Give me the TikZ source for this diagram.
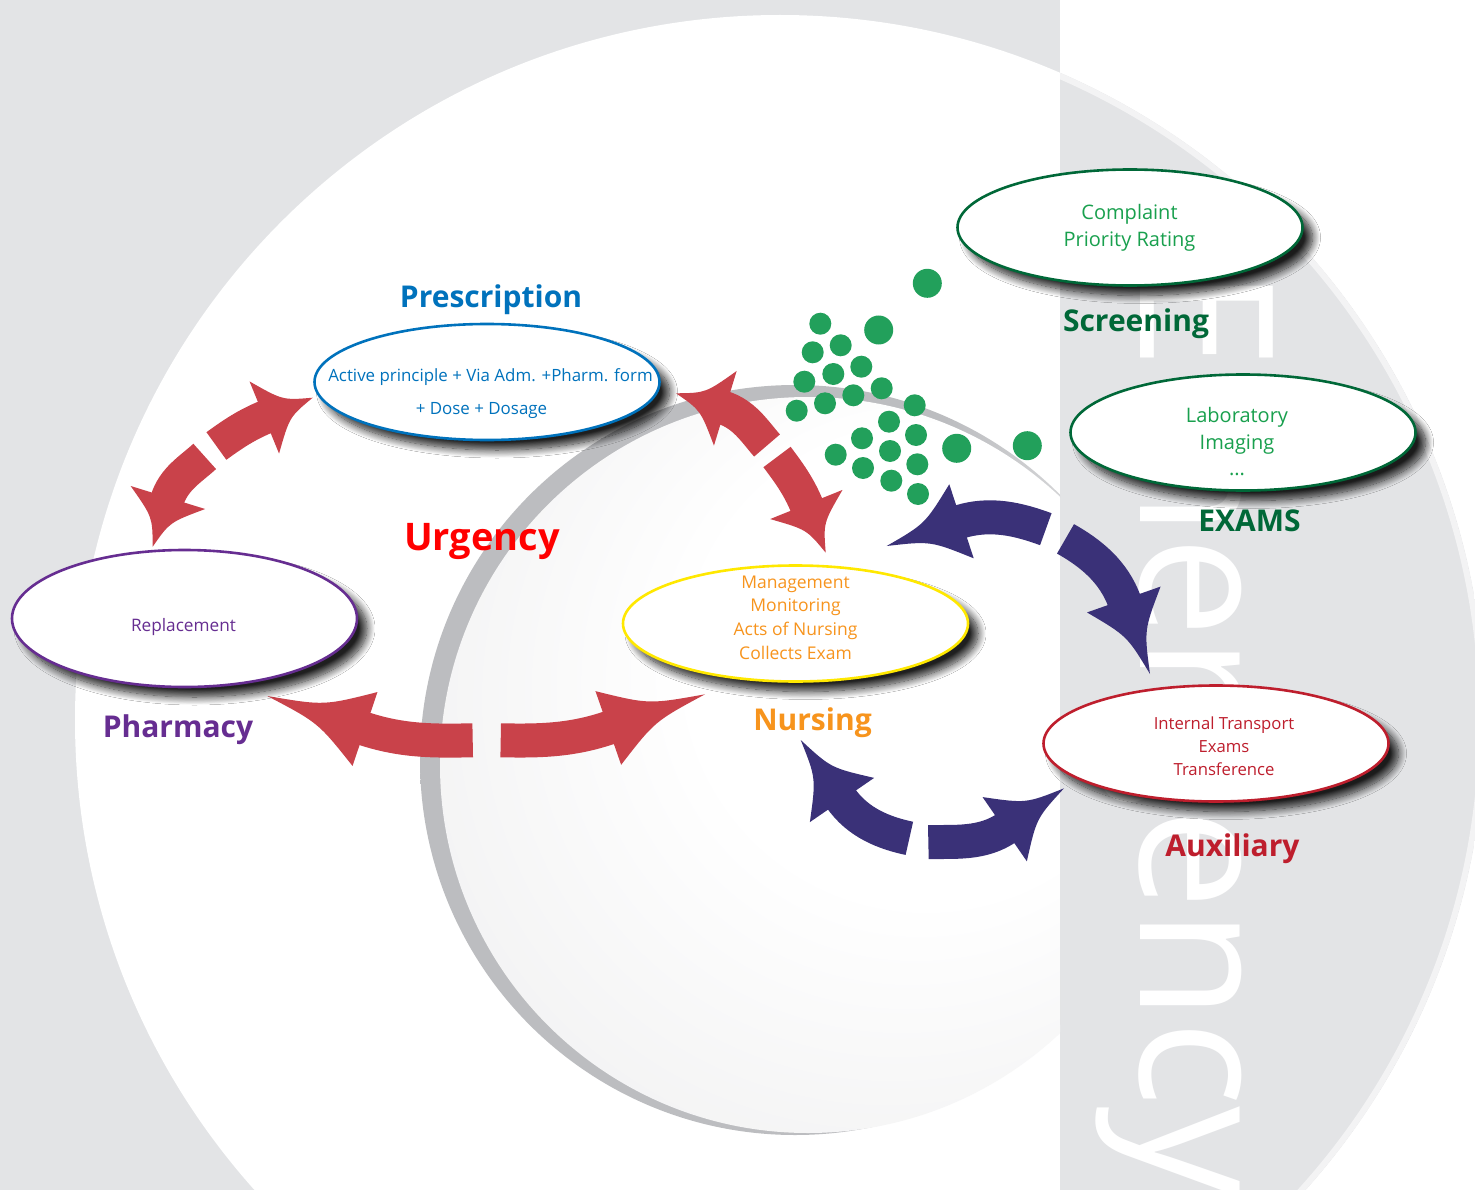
\documentclass[tikz,border=0pt]{standalone}
\usepackage{graphicx}
\usepackage{fontspec}
\setmainfont{Open Sans}
\usetikzlibrary{calc,shapes.geometric,shadows.blur}
\definecolor{bggray}{HTML}{E3E4E6}
\definecolor{presblue}{HTML}{0072BC}
\definecolor{pharmpurple}{HTML}{662D91}
\definecolor{nursyellow}{HTML}{FFE800}
\definecolor{nursorange}{HTML}{F7941D}
\definecolor{auxred}{HTML}{BE1E2D}
\definecolor{txtgreen}{HTML}{19A04E}
\definecolor{darkgreen}{HTML}{006838}
\definecolor{urgred}{HTML}{FF0000}
\definecolor{arrred}{HTML}{C9424A}
\definecolor{arrnavy}{HTML}{3A3178}
\definecolor{dotgreen}{HTML}{22A05B}
\definecolor{crescent}{HTML}{BCBDC0}
\definecolor{sphereedge}{HTML}{E6E6E7}
\pgfdeclareradialshading{sphereshade}{\pgfpoint{12bp}{10bp}}{color(0bp)=(white); color(16bp)=(white); color(50bp)=(sphereedge)}
\pgfdeclarehorizontalshading{crescshade}{100bp}{color(0bp)=(crescent); color(60bp)=(crescent); color(82bp)=(white); color(100bp)=(white)}
\newcommand\halfarrow[5]{%
  \coordinate (hm) at ($(#4)!0.45!(#5)$);
  \draw[#1, line width=34pt] (#2) .. controls (#3) and ($(#4)!-0.38!(#5)$) .. ($(#4)!3pt!(#5)$);
  \fill[#1] ($(#4)!39pt!90:(#5)$) .. controls ($(hm)!9pt!90:(#5)$) .. (#5)
     .. controls ($(hm)!9pt!-90:(#5)$) .. ($(#4)!39pt!-90:(#5)$) -- cycle;
}
\tikzset{
  ovalnode/.style={ellipse, fill=white, line width=2.6pt, minimum width=345pt, minimum height=116pt, inner sep=0pt,
    blur shadow={shadow xshift=10pt, shadow yshift=-10pt, shadow blur radius=8pt, shadow blur steps=14, shadow opacity=88}},
  ovaltext/.style={align=center, inner sep=0pt},
  biglabel/.style={anchor=base, inner sep=0pt, font=\bfseries\fontsize{30}{36}\selectfont},
  redarr/.style={color=arrred},
  navyarr/.style={color=arrnavy},
  dot/.style={fill=dotgreen},
}
\begin{document}
\begin{tikzpicture}[x=1pt, y=-1pt]
\useasboundingbox (0,0) rectangle (1475,1190);
% background
\fill[bggray] (0,0) rectangle (1060,1190);
\fill[white] (1060,0) rectangle (1475,1190);
\begin{scope}
  \clip (780,720) circle[radius=705pt];
  \fill[white] (0,0) rectangle (1060,1190);
  \fill[bggray] (1060,0) rectangle (1475,1190);
  \begin{scope}
    \clip (1060,0) rectangle (1475,1190);
    \draw[white!55!bggray, line width=6pt] (780,720) circle[radius=702pt];
  \end{scope}
\end{scope}
% sphere
\begin{scope}
  \clip (0,0) rectangle (1060,1190);
  \shade[shading=crescshade] (795,760) circle[radius=375pt];
  \shade[shading=sphereshade] (808,765) circle[radius=368pt];
\end{scope}
% big vertical word
\node[rotate=-90, anchor=base west, inner sep=0pt, text=white, font=\fontsize{186}{186}\selectfont] (emerg) at (1140,268) {\scalebox{0.97}[1]{Emergency}};
% arrows: red left arc
\coordinate (rlGa) at (216.4,446);   \coordinate (rlCa) at (232.6,434.3);
\coordinate (rlBa) at (264.3,417.5); \coordinate (rlTa) at (312.7,397.7);
\coordinate (rlGb) at (204.7,456.4); \coordinate (rlCb) at (190.7,469.3);
\coordinate (rlBb) at (167.9,497.5); \coordinate (rlTb) at (152.7,546.7);
\halfarrow{redarr}{rlGa}{rlCa}{rlBa}{rlTa}
\halfarrow{redarr}{rlGb}{rlCb}{rlBb}{rlTb}
% red right arc
\coordinate (rrGa) at (767,445.5);   \coordinate (rrCa) at (754.5,431.2);
\coordinate (rrBa) at (725.3,408.3); \coordinate (rrTa) at (676,393.3);
\coordinate (rrGb) at (777,457);     \coordinate (rrCb) at (788.4,472.2);
\coordinate (rrBb) at (806.3,504.5); \coordinate (rrTb) at (825.7,552.7);
\halfarrow{redarr}{rrGa}{rrCa}{rrBa}{rrTa}
\halfarrow{redarr}{rrGb}{rrCb}{rrBb}{rrTb}
% red bottom
\coordinate (rbGa) at (472.7,740.3); \coordinate (rbCa) at (434.7,741);
\coordinate (rbBa) at (365,729);     \coordinate (rbTa) at (267.3,696);
\coordinate (rbGb) at (500.7,740.3); \coordinate (rbCb) at (538.7,741);
\coordinate (rbBb) at (608.3,728);   \coordinate (rbTb) at (705,694.3);
\halfarrow{redarr}{rbGa}{rbCa}{rbBa}{rbTa}
\halfarrow{redarr}{rbGb}{rbCb}{rbBb}{rbTb}
% navy upper
\coordinate (nuGa) at (1045.8,529.2);  \coordinate (nuCa) at (1019.5,519.5);
\coordinate (nuBa) at (961.5,521.3);   \coordinate (nuTa) at (886.7,546);
\coordinate (nuGb) at (1065.5,538.85); \coordinate (nuCb) at (1089.9,552.6);
\coordinate (nuBb) at (1123.8,599.5);  \coordinate (nuTb) at (1150,674);
\halfarrow{navyarr}{nuGa}{nuCa}{nuBa}{nuTa}
\halfarrow{navyarr}{nuGb}{nuCb}{nuBb}{nuTb}
% navy lower
\coordinate (nlGa) at (909.35,838.35); \coordinate (nlCa) at (883.9,832.9);
\coordinate (nlBa) at (842,800);       \coordinate (nlTa) at (800.7,740);
\coordinate (nlGb) at (928.35,842.15); \coordinate (nlCb) at (954.4,841.4);
\coordinate (nlBb) at (1004.7,829.2);  \coordinate (nlTb) at (1064,788.3);
\halfarrow{navyarr}{nlGa}{nlCa}{nlBa}{nlTa}
\halfarrow{navyarr}{nlGb}{nlCb}{nlBb}{nlTb}
% green dots
\foreach \px/\py/\r in {927.3/283.3/14.5, 820.3/323.7/11, 878.7/330/14.5, 812.7/352.3/11, 840.7/345.3/11,
  833.3/374/11, 861.3/366.7/11, 804.3/381.7/11, 881.7/388.3/11, 853.3/395.3/11, 825/403.3/11,
  796.7/410.7/11, 914.7/405.3/11, 889/421.7/11, 916/435/11, 862/438.3/11, 835.7/454.7/11,
  890/451/11, 917.3/464.3/11, 863/468/11, 891.3/480.7/11, 918/494/11, 956.7/448.3/14.5, 1027.3/445.7/14.5}
  \fill[dot] (\px,\py) circle[radius=\r pt];
% ellipses
\node[ovalnode, draw=darkgreen] (screen) at (1130,227.5) {};
\node[ovalnode, draw=darkgreen] (exams) at (1243,432.5) {};
\node[ovalnode, draw=presblue] (presc) at (487,382) {};
\node[ovalnode, draw=pharmpurple, minimum height=137pt] (pharm) at (184.5,618.5) {};
\node[ovalnode, draw=nursyellow] (nurs) at (795.5,623.5) {};
\node[ovalnode, draw=auxred] (aux) at (1216,743.5) {};
% ellipse texts
\node[ovaltext, text=txtgreen, font=\fontsize{20}{27}\selectfont] (screentxt) at (1129.5,227.8) {Complaint\\Priority Rating};
\node[ovaltext, text=txtgreen, font=\fontsize{20}{26.5}\selectfont] (examstxt) at (1237,442) {Laboratory\\Imaging\\...};
\node[ovaltext, text=presblue, font=\fontsize{16.9}{33}\selectfont] (presctxt) at (490.5,394) {Active principle + Via Adm. +Pharm. form\\+ Dose + Dosage\hspace*{18pt}};
\node[ovaltext, text=pharmpurple, font=\fontsize{17.2}{20}\selectfont] (pharmtxt) at (183.5,627) {Replacement};
\node[ovaltext, text=nursorange, font=\fontsize{17.5}{23.7}\selectfont] (nurstxt) at (795.5,617.5) {Management\\Monitoring\\Acts of Nursing\\Collects Exam};
\node[ovaltext, text=auxred, font=\fontsize{16.7}{23}\selectfont] (auxtxt) at (1224,746) {Internal Transport\\Exams\\Transference};
% labels
\node[biglabel, text=presblue] (preslbl) at (491,308) {Prescription};
\node[biglabel, text=darkgreen] (screenlbl) at (1136,331) {Screening};
\node[biglabel, text=darkgreen] (examslbl) at (1249.5,531) {EXAMS};
\node[biglabel, text=urgred, font=\bfseries\fontsize{38}{44}\selectfont] (urglbl) at (482,550) {Urgency};
\node[biglabel, text=pharmpurple] (pharmlbl) at (178,737) {Pharmacy};
\node[biglabel, text=nursorange] (nurslbl) at (812.5,730) {Nursing};
\node[biglabel, text=auxred] (auxlbl) at (1232.5,856) {Auxiliary};
\end{tikzpicture}
\end{document}
